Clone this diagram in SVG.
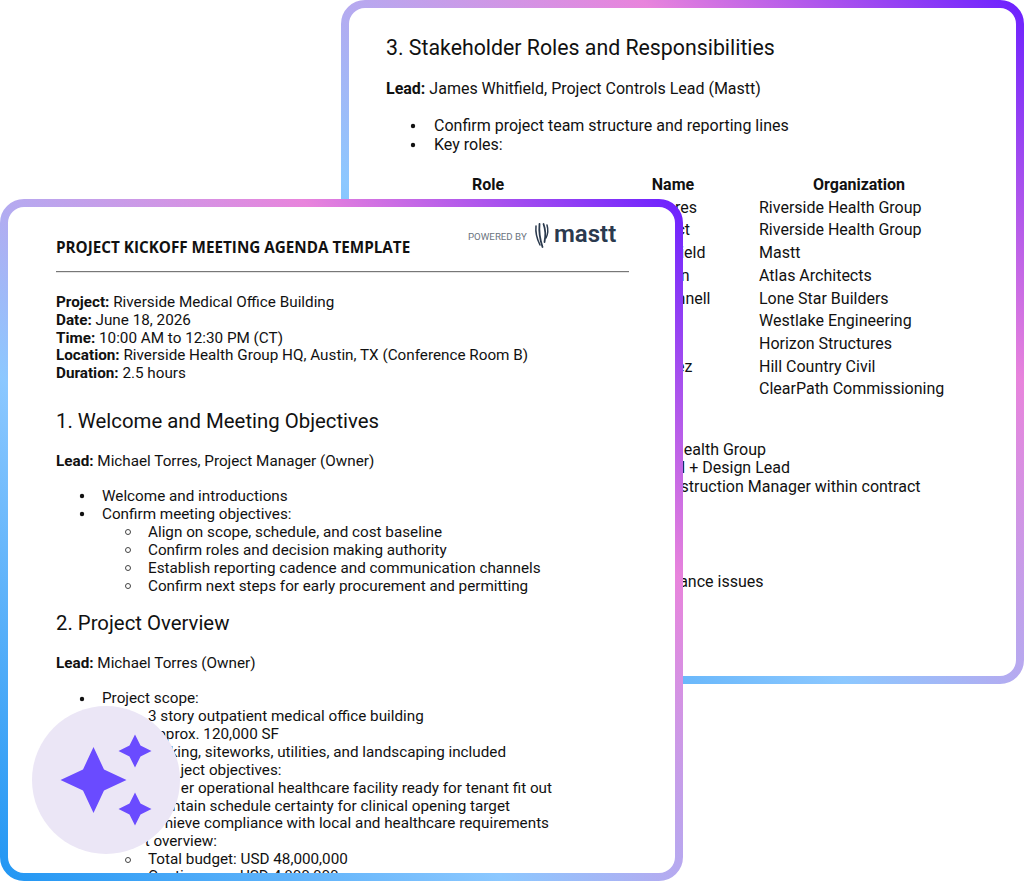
<svg xmlns="http://www.w3.org/2000/svg" width="1024" height="882" viewBox="0 0 1024 882">
<style>
text{font-family:Roboto,"Liberation Sans",sans-serif;font-size:16px;fill:#111}
.b{font-weight:700}
.e{text-anchor:end}
.h{font-size:21.3px}
#front-card text{font-size:15.25px}
#front-card text.e{text-anchor:end}
#front-card text.h{font-size:20.35px}
#front-card text.tt{font-family:"Open Sans","Noto Sans",sans-serif;font-weight:700;font-size:15.24px}
#front-card text.pb{font-size:9.7px;fill:#6b7480}
#front-card text.m{font-size:24px;font-weight:600;fill:#2b3a4e}
.card{fill:#fff;stroke-width:8}
.dot{fill:#111}
.ring{fill:none;stroke:#444;stroke-width:1}
.star{fill:#6a4bff}
</style>
<defs>
<linearGradient id="gb" gradientUnits="userSpaceOnUse" x1="341" y1="684" x2="1024" y2="0">
<stop offset="0" stop-color="#2196f3"/><stop offset=".37" stop-color="#8cc8ff"/><stop offset=".5" stop-color="#b5aaf0"/><stop offset=".72" stop-color="#e884dc"/><stop offset="1" stop-color="#6a1fff"/>
</linearGradient>
<linearGradient id="gf" gradientUnits="userSpaceOnUse" x1="0" y1="881" x2="683" y2="199">
<stop offset="0" stop-color="#2196f3"/><stop offset=".37" stop-color="#8cc8ff"/><stop offset=".5" stop-color="#b5aaf0"/><stop offset=".72" stop-color="#e884dc"/><stop offset="1" stop-color="#6a1fff"/>
</linearGradient>
<clipPath id="cf"><rect x="8" y="207" width="667" height="666" rx="16"/></clipPath>
</defs>
<g id="back-card">
<rect class="card" x="345" y="4" width="675" height="676" rx="20" stroke="url(#gb)"/>
<text class="h" x="386" y="55">3. Stakeholder Roles and Responsibilities</text>
<text x="386" y="94"><tspan class="b">Lead:</tspan> James Whitfield, Project Controls Lead (Mastt)</text>
<circle class="dot" cx="413" cy="126" r="2.2"/><text x="434" y="131">Confirm project team structure and reporting lines</text>
<circle class="dot" cx="413" cy="145" r="2.2"/><text x="434" y="149.500">Key roles:</text>
<text class="b" x="488" y="189.500" text-anchor="middle">Role</text>
<text class="b" x="673" y="189.500" text-anchor="middle">Name</text>
<text class="b" x="859" y="189.500" text-anchor="middle">Organization</text>
<text class="e" x="697" y="212.500">res</text><text x="759" y="212.500">Riverside Health Group</text>
<text class="e" x="690" y="235">ct</text><text x="759" y="235">Riverside Health Group</text>
<text class="e" x="705.500" y="258">ield</text><text x="759" y="258">Mastt</text>
<text class="e" x="689.500" y="280.500">n</text><text x="759" y="280.500">Atlas Architects</text>
<text class="e" x="710.500" y="303.500">nnell</text><text x="759" y="303.500">Lone Star Builders</text>
<text x="759" y="326">Westlake Engineering</text>
<text x="759" y="348.500">Horizon Structures</text>
<text class="e" x="692.500" y="371.500">ez</text><text x="759" y="371.500">Hill Country Civil</text>
<text x="759" y="394">ClearPath Commissioning</text>
<text class="e" x="766" y="455">ealth Group</text>
<text class="e" x="790" y="473">l + Design Lead</text>
<text class="e" x="920.500" y="492">struction Manager within contract</text>
<text class="e" x="763.500" y="587">ance issues</text>
</g>
<g id="front-card">
<rect class="card" x="4" y="203" width="675" height="674" rx="20" stroke="url(#gf)"/>
<g clip-path="url(#cf)">
<text class="tt" x="56" y="253">PROJECT KICKOFF MEETING AGENDA TEMPLATE</text>
<rect x="56" y="271" width="573" height="1.200" fill="#777"/>
<text class="pb" x="468" y="240">POWERED BY</text>
<g id="logo" fill="none" stroke="#2b3a4e" stroke-linecap="round">
<path d="M536 226q-1 9 4 19" stroke-width="1.500"/><path d="M539.500 224q-1 11 3 23" stroke-width="1.800"/><path d="M543.500 224q3 8 1 18" stroke-width="1.800"/><path d="M547 225q2 7-1 13" stroke-width="1.500"/>
</g>
<text class="m" x="554" y="242">mastt</text>
<text x="56" y="307"><tspan class="b">Project:</tspan> Riverside Medical Office Building</text>
<text x="56" y="325"><tspan class="b">Date:</tspan> June 18, 2026</text>
<text x="56" y="343"><tspan class="b">Time:</tspan> 10:00 AM to 12:30 PM (CT)</text>
<text x="56" y="360"><tspan class="b">Location:</tspan> Riverside Health Group HQ, Austin, TX (Conference Room B)</text>
<text x="56" y="378"><tspan class="b">Duration:</tspan> 2.5 hours</text>
<text class="h" x="56" y="428">1. Welcome and Meeting Objectives</text>
<text x="56" y="466"><tspan class="b">Lead:</tspan> Michael Torres, Project Manager (Owner)</text>
<circle class="dot" cx="82" cy="496" r="2.200"/><text x="102" y="501">Welcome and introductions</text>
<circle class="dot" cx="82" cy="514" r="2.200"/><text x="102" y="519">Confirm meeting objectives:</text>
<circle class="ring" cx="128" cy="532" r="2.500"/><text x="148" y="537">Align on scope, schedule, and cost baseline</text>
<circle class="ring" cx="128" cy="550" r="2.500"/><text x="148" y="555">Confirm roles and decision making authority</text>
<circle class="ring" cx="128" cy="568" r="2.500"/><text x="148" y="573">Establish reporting cadence and communication channels</text>
<circle class="ring" cx="128" cy="586" r="2.500"/><text x="148" y="591">Confirm next steps for early procurement and permitting</text>
<text class="h" x="56" y="630">2. Project Overview</text>
<text x="56" y="668"><tspan class="b">Lead:</tspan> Michael Torres (Owner)</text>
<circle class="dot" cx="82" cy="699" r="2.200"/><text x="102" y="703">Project scope:</text>
<text x="148" y="721">3 story outpatient medical office building</text>
<text class="e" x="279" y="739">pprox. 120,000 SF</text>
<text class="e" x="506" y="757">king, siteworks, utilities, and landscaping included</text>
<text class="e" x="281.500" y="775">ject objectives:</text>
<text class="e" x="552" y="793">er operational healthcare facility ready for tenant fit out</text>
<text class="e" x="510" y="811">ntain schedule certainty for clinical opening target</text>
<text class="e" x="549" y="828">hieve compliance with local and healthcare requirements</text>
<text class="e" x="217" y="846">t overview:</text>
<circle class="ring" cx="128" cy="860" r="2.500"/><text x="148" y="864">Total budget: USD 48,000,000</text>
<text x="148" y="881">Contingency: USD 4,800,000</text>
</g>
</g>
<g id="badge">
<circle cx="106" cy="780" r="74" fill="#ebe6f6"/>
<path class="star" d="M93.500 747L104 769.500L126.500 780L104 790.500L93.500 813L83 790.500L60.500 780L83 769.500Z"/>
<path class="star" d="M135 734.500L140.500 745.500L151.500 751L140.500 756.500L135 767.500L129.500 756.500L118.500 751L129.500 745.500Z"/>
<path class="star" d="M135 792.500L140.500 803.500L151.500 809L140.500 814.500L135 825.500L129.500 814.500L118.500 809L129.500 803.500Z"/>
</g>
</svg>
